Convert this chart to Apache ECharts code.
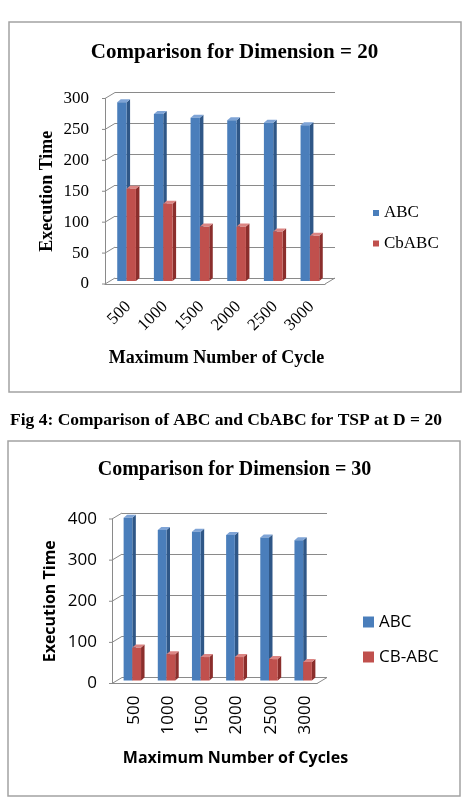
<!DOCTYPE html>
<html>
<head>
<meta charset="utf-8">
<script src="https://cdn.jsdelivr.net/npm/echarts@6/dist/echarts.min.js"></script>
<style>
  html, body { margin: 0; padding: 0; background: #fff; }
  #main { width: 469px; height: 805px; }
</style>
</head>
<body>
<div id="main"></div>
<script>
// data
var cycles = ['500', '1000', '1500', '2000', '2500', '3000'];
var abc20 = [289, 270, 264, 260, 256, 252];
var cbabc20 = [149, 125, 88, 88, 80, 73];
var abc30 = [396, 366, 362, 354, 348, 341];
var cbabc30 = [80, 64, 57, 57, 52, 45];
var ticks20 = [0, 50, 100, 150, 200, 250, 300];
var ticks30 = [0, 100, 200, 300, 400];

var serif = 'Liberation Serif';
var sans = 'Open Sans';
var gridCol = '#8a8a8a';
var blue = { front: '#4a7ebb', side: '#2f5787', top: '#7fa4d6' };
var red = { front: '#c0504d', side: '#8b2e2c', top: '#dc8583' };

// wall offset (front -> back) for the fake 3d look
var wallDx = 10, wallDy = 6;
var barDx = 3.5, barDy = 3;

function pairs(arr) {
  return arr.map(function (v, i) { return [i, v]; });
}

function barItem(pos, col) {
  return function (params, api) {
    var i = api.value(0), v = api.value(1);
    var top = api.coord([i, v]);
    var base = api.coord([i, 0]);
    var band = api.size([1, 0])[0];
    var w = band * 0.255;
    var x0 = top[0] - w - barDx / 2 + pos * w;
    var y1 = top[1], y0 = base[1];
    return {
      type: 'group',
      children: [
        { type: 'polygon', shape: { points: [[x0 + w, y1], [x0 + w + barDx, y1 - barDy], [x0 + w + barDx, y0 - barDy], [x0 + w, y0]] }, style: { fill: col.side } },
        { type: 'polygon', shape: { points: [[x0, y1], [x0 + barDx, y1 - barDy], [x0 + w + barDx, y1 - barDy], [x0 + w, y1]] }, style: { fill: col.top } },
        { type: 'rect', shape: { x: x0, y: y1, width: w, height: y0 - y1 }, style: { fill: col.front } }
      ]
    };
  };
}

function wallItem(params, api) {
  var cs = params.coordSys;
  var y = api.coord([0, api.value(1)])[1];
  var kids = [{
    type: 'polyline',
    shape: { points: [[cs.x - 3, y], [cs.x, y], [cs.x + wallDx, y - wallDy]] },
    style: { stroke: gridCol, fill: 'none', lineWidth: 1 }
  }];
  if (api.value(1) === 0) {
    kids.push({
      type: 'line',
      shape: { x1: cs.x + cs.width, y1: y, x2: cs.x + cs.width + wallDx, y2: y - wallDy },
      style: { stroke: gridCol, lineWidth: 1 }
    });
  }
  return { type: 'group', children: kids };
}

// front / middle / back grids per chart
var f1 = { left: 105, top: 98.5, width: 220, height: 185.5 };
var f2 = { left: 112, top: 519, width: 205, height: 164.5 };
function shifted(g, k) {
  return { left: g.left + wallDx * k, top: g.top - wallDy * k, width: g.width, height: g.height };
}

var myChart = echarts.init(document.getElementById('main'));

var option = {
  backgroundColor: '#fff',
  animation: false,
  title: [
    { text: 'Comparison for Dimension = 20', left: 'center', top: 42, padding: 0,
      textStyle: { fontFamily: serif, fontSize: 21, fontWeight: 'bold', color: '#000' } },
    { text: 'Fig 4: Comparison of ABC and CbABC for TSP at D = 20', left: 10, top: 411, padding: 0,
      textStyle: { fontFamily: serif, fontSize: 17.5, fontWeight: 'bold', color: '#000' } },
    { text: 'Comparison for Dimension = 30', left: 'center', top: 460, padding: 0,
      textStyle: { fontFamily: serif, fontSize: 20, fontWeight: 'bold', color: '#000' } }
  ],
  graphic: [
    { type: 'rect', shape: { x: 9, y: 22, width: 452, height: 370 }, style: { fill: 'none', stroke: '#a3a3a3', lineWidth: 1.5 } },
    { type: 'rect', shape: { x: 8, y: 441, width: 452, height: 355 }, style: { fill: 'none', stroke: '#a3a3a3', lineWidth: 1.5 } }
  ],
  legend: [
    { orient: 'vertical', left: 373, top: 204.5, padding: 0, itemWidth: 6, itemHeight: 6, itemGap: 13.5, icon: 'rect',
      data: ['ABC', 'CbABC'], textStyle: { fontFamily: serif, fontSize: 17, lineHeight: 17, color: '#000' } },
    { orient: 'vertical', left: 363, top: 613.5, padding: 0, itemWidth: 11, itemHeight: 11, itemGap: 18, icon: 'rect',
      data: ['ABC', 'CB-ABC'], textStyle: { fontFamily: sans, fontSize: 17, lineHeight: 17, color: '#000' } }
  ],
  grid: [f1, shifted(f1, 0.5), shifted(f1, 1), f2, shifted(f2, 0.5), shifted(f2, 1)],
  xAxis: [
    { gridIndex: 0, type: 'category', data: cycles, axisLine: { lineStyle: { color: gridCol } }, axisTick: { show: false }, axisLabel: { show: false } },
    { gridIndex: 1, type: 'category', data: cycles, axisLine: { show: false }, axisTick: { show: false },
      axisLabel: { rotate: 45, margin: 23, fontFamily: serif, fontSize: 17, color: '#000' },
      name: 'Maximum Number of Cycle', nameLocation: 'middle', nameGap: 68,
      nameTextStyle: { fontFamily: serif, fontSize: 18, fontWeight: 'bold', color: '#000', padding: [0, 7, 0, 0] } },
    { gridIndex: 2, type: 'category', data: cycles, show: false },
    { gridIndex: 3, type: 'category', data: cycles, axisLine: { lineStyle: { color: gridCol } }, axisTick: { show: false }, axisLabel: { show: false } },
    { gridIndex: 4, type: 'category', data: cycles, axisLine: { show: false }, axisTick: { show: false },
      axisLabel: { rotate: 90, margin: 15, fontFamily: sans, fontSize: 17, color: '#000' },
      name: 'Maximum Number of Cycles', nameLocation: 'middle', nameGap: 70,
      nameTextStyle: { fontFamily: sans, fontSize: 16, fontWeight: 'bold', color: '#000', padding: [0, 0, 0, 32] } },
    { gridIndex: 5, type: 'category', data: cycles, show: false }
  ],
  yAxis: [
    { gridIndex: 0, type: 'value', min: 0, max: 300, interval: 50,
      axisLine: { show: true, lineStyle: { color: gridCol } }, axisTick: { show: false }, splitLine: { show: false },
      axisLabel: { margin: 16, fontFamily: serif, fontSize: 17, color: '#000' },
      name: 'Execution Time', nameLocation: 'middle', nameGap: 49,
      nameTextStyle: { fontFamily: serif, fontSize: 18, fontWeight: 'bold', color: '#000' } },
    { gridIndex: 1, type: 'value', min: 0, max: 300, interval: 50, show: false },
    { gridIndex: 2, type: 'value', min: 0, max: 300, interval: 50,
      axisLine: { show: false }, axisTick: { show: false }, axisLabel: { show: false },
      splitLine: { show: true, lineStyle: { color: gridCol, width: 1 } } },
    { gridIndex: 3, type: 'value', min: 0, max: 400, interval: 100,
      axisLine: { show: true, lineStyle: { color: gridCol } }, axisTick: { show: false }, splitLine: { show: false },
      axisLabel: { margin: 15, fontFamily: sans, fontSize: 17, color: '#000' },
      name: 'Execution Time', nameLocation: 'middle', nameGap: 54,
      nameTextStyle: { fontFamily: sans, fontSize: 16, fontWeight: 'bold', color: '#000' } },
    { gridIndex: 4, type: 'value', min: 0, max: 400, interval: 100, show: false },
    { gridIndex: 5, type: 'value', min: 0, max: 400, interval: 100,
      axisLine: { show: false }, axisTick: { show: false }, axisLabel: { show: false },
      splitLine: { show: true, lineStyle: { color: gridCol, width: 1 } } }
  ],
  series: [
    { type: 'custom', name: 'wall20', xAxisIndex: 0, yAxisIndex: 0, silent: true, clip: false,
      data: pairs(ticks20).map(function (d) { return [0, d[1]]; }), renderItem: wallItem },
    { type: 'custom', name: 'ABC', xAxisIndex: 1, yAxisIndex: 1, clip: false, itemStyle: { color: blue.front },
      data: pairs(abc20), encode: { x: 0, y: 1 }, renderItem: barItem(0, blue) },
    { type: 'custom', name: 'CbABC', xAxisIndex: 1, yAxisIndex: 1, clip: false, itemStyle: { color: red.front },
      data: pairs(cbabc20), encode: { x: 0, y: 1 }, renderItem: barItem(1, red) },
    { type: 'custom', name: 'wall30', xAxisIndex: 3, yAxisIndex: 3, silent: true, clip: false,
      data: pairs(ticks30).map(function (d) { return [0, d[1]]; }), renderItem: wallItem },
    { type: 'custom', name: 'ABC', xAxisIndex: 4, yAxisIndex: 4, clip: false, itemStyle: { color: blue.front },
      data: pairs(abc30), encode: { x: 0, y: 1 }, renderItem: barItem(0, blue) },
    { type: 'custom', name: 'CB-ABC', xAxisIndex: 4, yAxisIndex: 4, clip: false, itemStyle: { color: red.front },
      data: pairs(cbabc30), encode: { x: 0, y: 1 }, renderItem: barItem(1, red) }
  ]
};

myChart.setOption(option);
</script>
</body>
</html>
